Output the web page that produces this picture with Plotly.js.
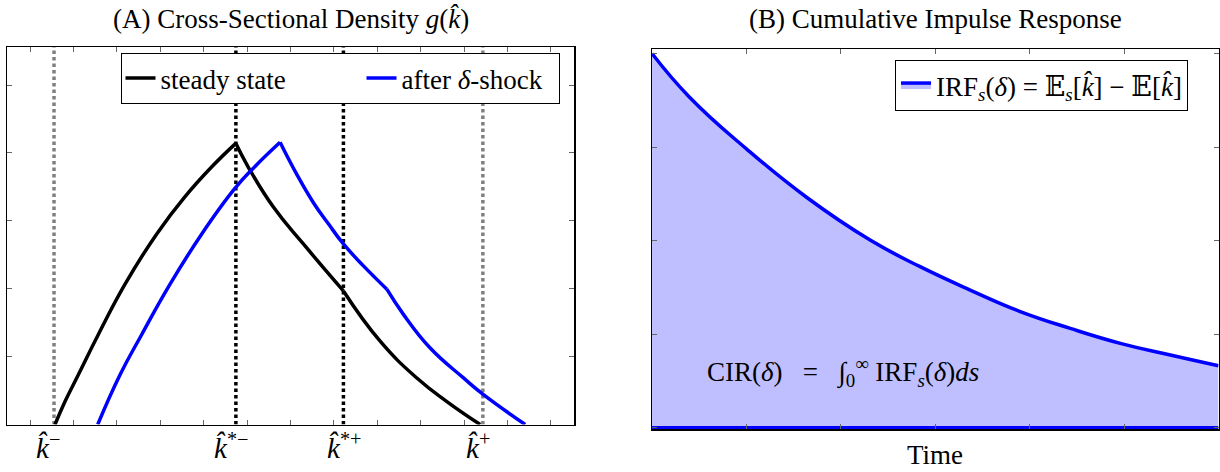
<!DOCTYPE html>
<html>
<head>
<meta charset="utf-8">
<script src="https://cdn.plot.ly/plotly-3.0.1.min.js"></script>
<style>html,body{margin:0;padding:0;background:#fff;}#chart{width:1220px;height:472px;}</style>
</head>
<body>
<div id="chart"></div>
<script>
// ---------- Data ----------
// Panel A: cross-sectional density (x and y in tick units)
const ssRiseX = [0.576, 0.806, 1.113, 1.574, 2.189, 2.919, 3.571, 4.187, 4.740];
const ssRiseY = [0.0, 0.338, 0.733, 1.326, 2.067, 2.807, 3.356, 3.796, 4.141];
const ssFall1X = [4.740, 5.023, 5.606, 6.297, 7.219];
const ssFall1Y = [4.141, 3.796, 3.203, 2.659, 1.967];
const ssFall2X = [7.219, 8.065, 8.910, 9.601, 10.369];
const ssFall2Y = [1.967, 1.227, 0.684, 0.338, 0.0];

const shRiseX = [1.560, 2.074, 2.574, 3.226, 3.956, 4.724, 5.184, 5.760];
const shRiseY = [0.0, 0.733, 1.326, 2.067, 2.807, 3.481, 3.801, 4.156];
const shFall1X = [5.760, 6.145, 6.528, 6.873, 7.219, 7.680, 8.219];
const shFall1Y = [4.156, 3.683, 3.267, 2.956, 2.659, 2.336, 1.993];
const shFall2X = [8.219, 8.601, 9.217, 9.984, 10.445, 11.406];
const shFall2Y = [1.993, 1.622, 1.126, 0.686, 0.439, 0.0];

const vlineX = [0.553, 4.742, 7.219, 10.431];
const vlineColor = ['#808080', '#000000', '#000000', '#808080'];

const kLabelX = [0.415, 4.63, 7.235, 10.32];
const kLabels = ['<i>k̂</i><sup>−</sup>', '<i>k̂</i><sup>*−</sup>', '<i>k̂</i><sup>*+</sup>', '<i>k̂</i><sup>+</sup>'];

// Panel B: impulse response over time
const irfT = [0, 0.40, 1.00, 1.64, 2.31, 2.84, 3.37, 3.90, 4.43, 4.96, 5.49, 6.0];
const irfV = [4.00, 3.53, 2.98, 2.46, 2.005, 1.72, 1.47, 1.24, 1.06, 0.90, 0.775, 0.66];

const titleA = '(A) Cross-Sectional Density <i>g</i>(<i>k̂</i>)';
const titleB = '(B) Cumulative Impulse Response';
const legendSS = 'steady state';
const legendSh = 'after <i>δ</i>-shock';
const legendIRF = 'IRF<sub><i>s</i></sub>(<i>δ</i>) = 𝔼<sub><i>s</i></sub>[<i>k̂</i>] − 𝔼[<i>k̂</i>]';
const cirText = 'CIR(<i>δ</i>)&nbsp;&nbsp;&nbsp;=&nbsp;&nbsp;&nbsp;∫<sub>0</sub><sup>∞</sup>&nbsp;IRF<sub><i>s</i></sub>(<i>δ</i>)<i>ds</i>';
const xTitleB = 'Time';

// ---------- Styling ----------
const FONT = '"Liberation Serif", "DejaVu Serif", serif';
const FS = 27;
const BLUE = '#0000ff';
const LW = 3.5;
const SM = 1.3;

const traces = [];
const yTopA = 5.56;
vlineX.forEach((x, i) => {
  traces.push({x: [x, x], y: [0, yTopA], xaxis: 'x', yaxis: 'y', mode: 'lines',
    line: {color: vlineColor[i], width: 3.5, dash: '3.5px,3px'}, showlegend: false, hoverinfo: 'skip'});
});
const seg = (x, y, color, name, group, show, lw) => ({
  x: x, y: y, xaxis: 'x', yaxis: 'y', mode: 'lines', name: name, legendgroup: group,
  showlegend: show, legend: 'legend', legendwidth: lw,
  line: {color: color, width: LW, shape: 'spline', smoothing: SM}
});
traces.push(seg(ssRiseX, ssRiseY, '#000', legendSS, 'ss', true, 196));
traces.push(seg(ssFall1X, ssFall1Y, '#000', legendSS, 'ss', false));
traces.push(seg(ssFall2X, ssFall2Y, '#000', legendSS, 'ss', false));
traces.push(seg(shRiseX, shRiseY, BLUE, legendSh, 'sh', true, 152));
traces.push(seg(shFall1X, shFall1Y, BLUE, legendSh, 'sh', false));
traces.push(seg(shFall2X, shFall2Y, BLUE, legendSh, 'sh', false));

// Panel B
traces.push({x: irfT, y: irfV, xaxis: 'x2', yaxis: 'y2', mode: 'lines', fill: 'tozeroy',
  fillcolor: 'rgb(191,191,255)', name: legendIRF, legend: 'legend2',
  line: {color: BLUE, width: LW, shape: 'spline', smoothing: SM}});
traces.push({x: [irfT[0], irfT[irfT.length - 1]], y: [0, 0], xaxis: 'x2', yaxis: 'y2', mode: 'lines',
  line: {color: BLUE, width: 3}, showlegend: false, hoverinfo: 'skip'});

const W = 1220, H = 472;
const ax = (extra) => Object.assign({
  showline: true, linecolor: '#000', linewidth: 1.5, mirror: 'ticks',
  ticks: 'inside', ticklen: 5, tickwidth: 1, tickcolor: '#666',
  showticklabels: false, showgrid: false, zeroline: false, fixedrange: true
}, extra);

const tf = (size) => ({family: FONT, size: size, color: '#000'});
const annotations = [];
annotations.push({xref: 'paper', yref: 'paper', x: 290.5 / W, y: 1 - 19 / H, text: titleA, showarrow: false,
  xanchor: 'center', yanchor: 'middle', font: tf(FS)});
annotations.push({xref: 'paper', yref: 'paper', x: 935 / W, y: 1 - 19 / H, text: titleB, showarrow: false,
  xanchor: 'center', yanchor: 'middle', font: tf(FS)});
annotations.push({xref: 'paper', yref: 'paper', x: 935 / W, y: 1 - 455 / H, text: xTitleB, showarrow: false,
  xanchor: 'center', yanchor: 'middle', font: tf(FS)});
kLabels.forEach((t, i) => {
  annotations.push({xref: 'x', yref: 'paper', x: kLabelX[i], y: 1 - 446 / H, text: t, showarrow: false,
    xanchor: 'center', yanchor: 'middle', font: tf(29)});
});
annotations.push({xref: 'x2', yref: 'y2', x: 0.56, y: 0.59, text: cirText, showarrow: false,
  xanchor: 'left', yanchor: 'middle', font: tf(FS)});

const layout = {
  width: W, height: H,
  margin: {l: 0, r: 0, t: 0, b: 0, autoexpand: false},
  paper_bgcolor: '#fff', plot_bgcolor: '#fff',
  font: {family: FONT},
  xaxis: ax({domain: [7 / W, 574 / W], range: [-0.53, 12.53], dtick: 1, tick0: 0, anchor: 'y'}),
  yaxis: ax({domain: [1 - 424.5 / H, 1 - 47 / H], range: [0, yTopA], dtick: 1, tick0: 0, anchor: 'x'}),
  xaxis2: ax({domain: [652 / W, 1218.5 / W], range: [0, 6], dtick: 1, tick0: 0, anchor: 'y2'}),
  yaxis2: ax({domain: [1 - 429 / H, 1 - 49.3 / H], range: [-0.016, 4.045], dtick: 1, tick0: 0, anchor: 'x2'}),
  legend: {x: 120.5 / W, y: 1 - 53 / H, xanchor: 'left', yanchor: 'top', orientation: 'h',
    bordercolor: '#000', borderwidth: 1, bgcolor: '#fff', itemwidth: 30,
    font: tf(FS)},
  legend2: {x: 1041.5 / W, y: 1 - 60 / H, xanchor: 'center', yanchor: 'top', itemwidth: 30,
    bordercolor: '#000', borderwidth: 1, bgcolor: '#fff',
    font: tf(FS)},
  annotations: annotations,
  showlegend: true
};

Plotly.newPlot('chart', traces, layout, {displayModeBar: false, staticPlot: true});
</script>
</body>
</html>
